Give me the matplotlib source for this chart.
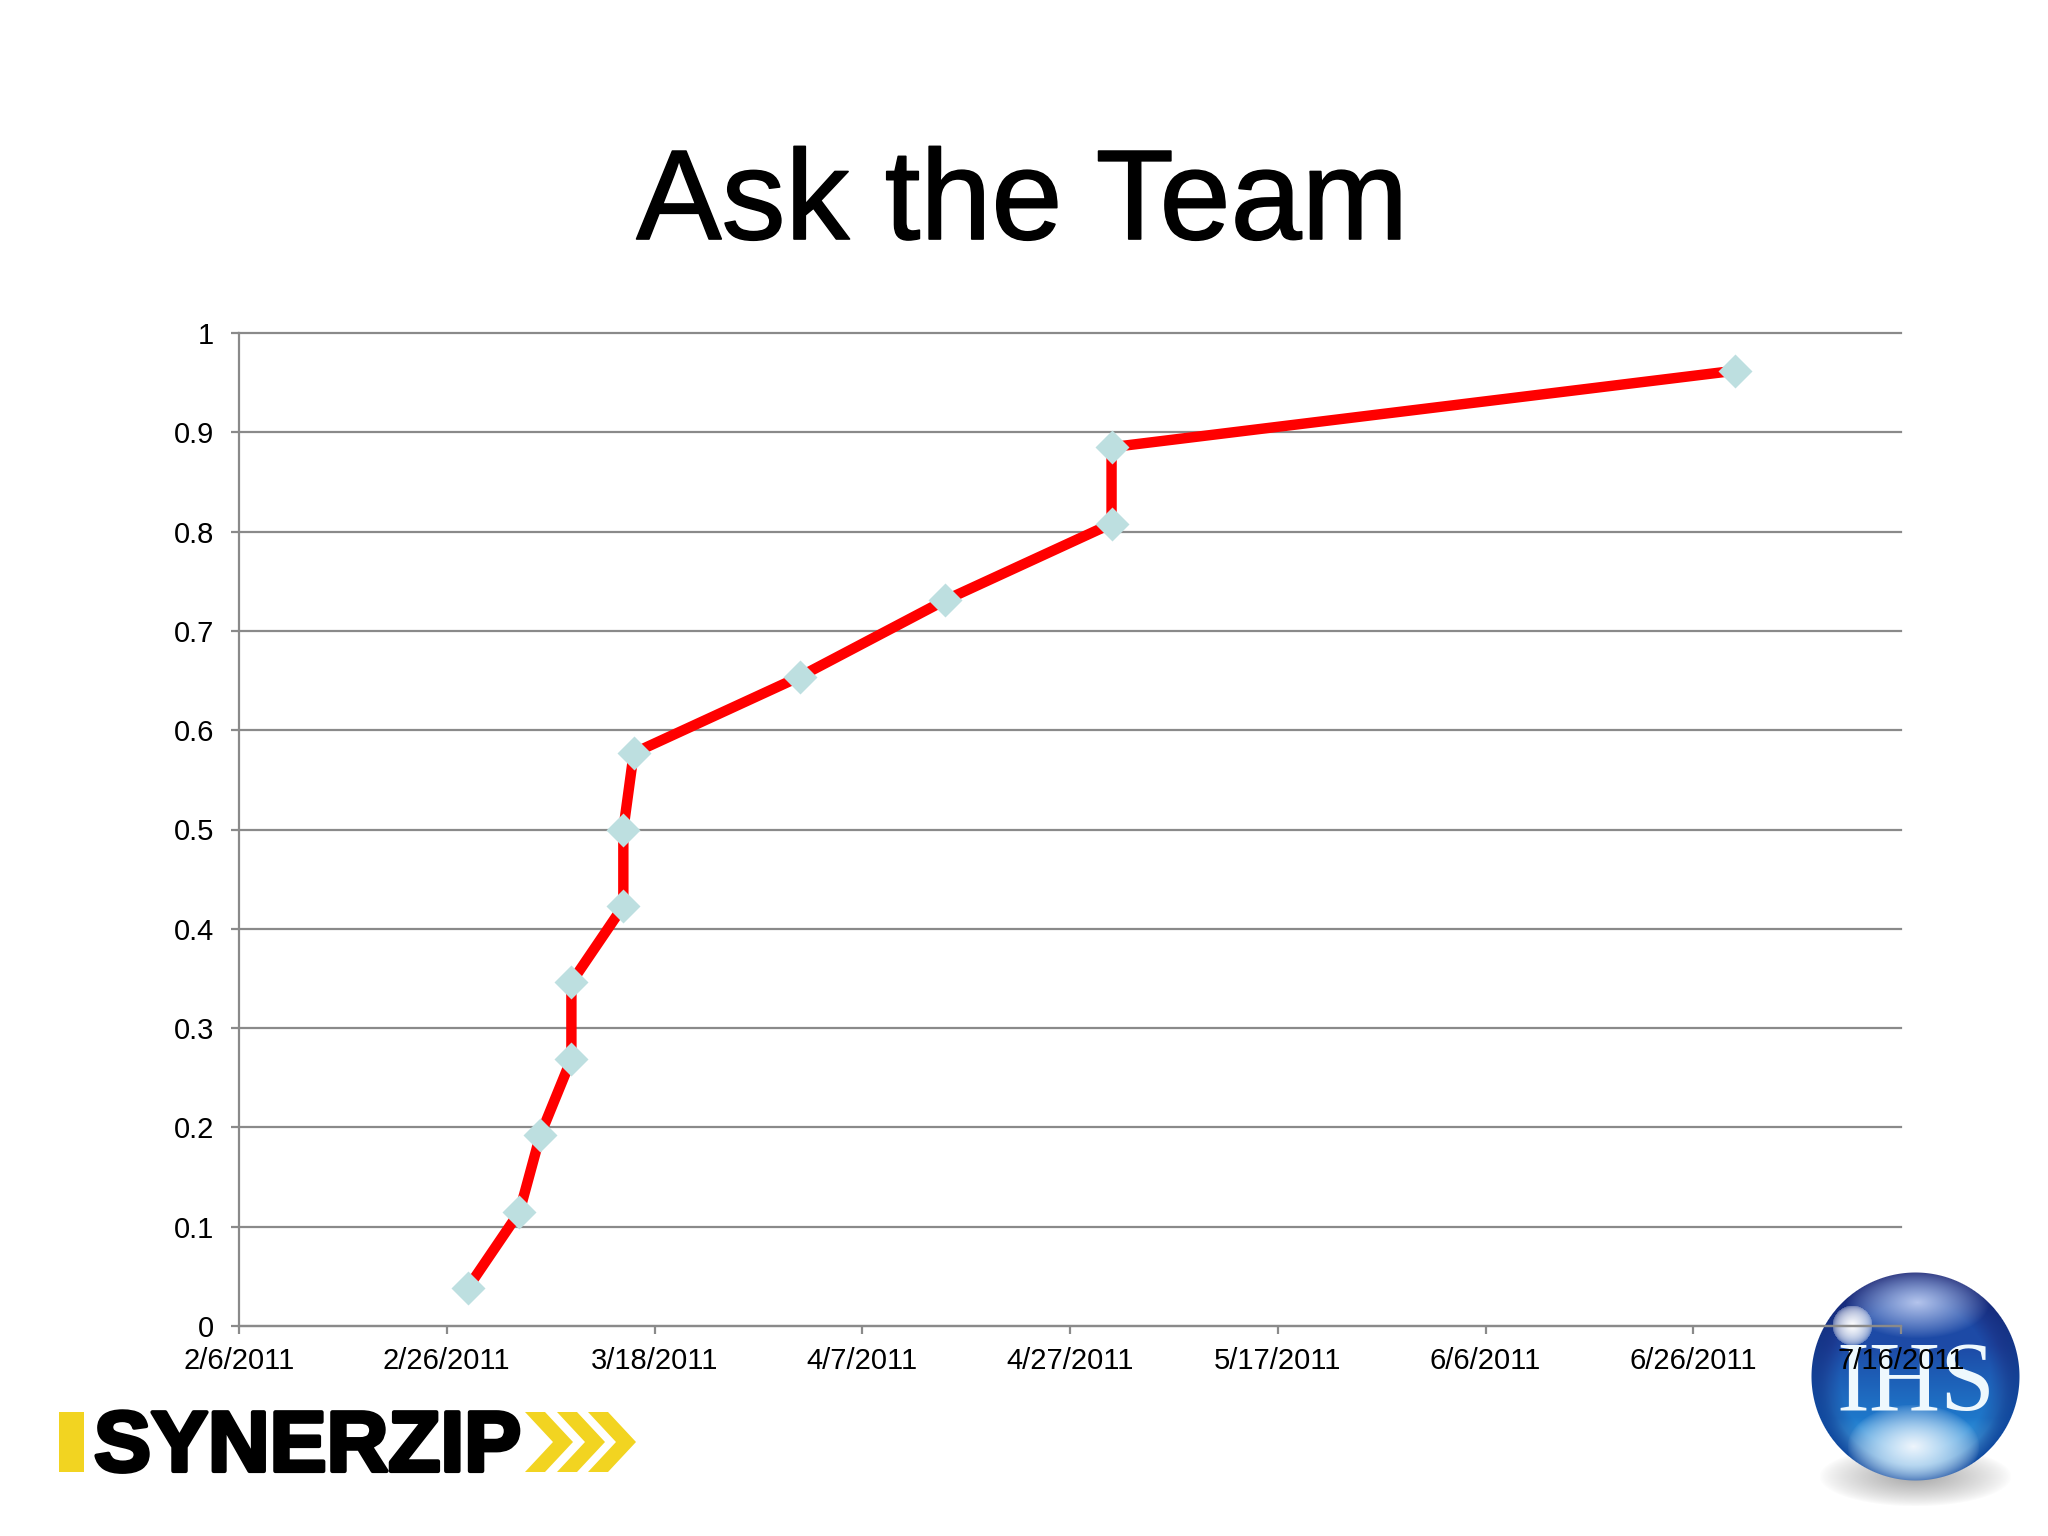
import numpy as np
import pandas as pd
import matplotlib
matplotlib.use('Agg')
import matplotlib.pyplot as plt
import matplotlib.patheffects as pe
from matplotlib.patches import Polygon, Rectangle

# Data
dates = ['2011-02-28', '2011-03-05', '2011-03-07', '2011-03-10', '2011-03-10',
         '2011-03-15', '2011-03-15', '2011-03-16', '2011-04-01', '2011-04-15',
         '2011-05-01', '2011-05-01', '2011-06-30']
values = [0.038, 0.115, 0.192, 0.269, 0.346, 0.423, 0.500, 0.577, 0.654,
          0.731, 0.808, 0.885, 0.962]
x_ticks = ['2011-02-06', '2011-02-26', '2011-03-18', '2011-04-07', '2011-04-27',
           '2011-05-17', '2011-06-06', '2011-06-26', '2011-07-16']
x_labels = ['2/6/2011', '2/26/2011', '3/18/2011', '4/7/2011', '4/27/2011',
            '5/17/2011', '6/6/2011', '6/26/2011', '7/16/2011']
y_ticks = [0, 0.1, 0.2, 0.3, 0.4, 0.5, 0.6, 0.7, 0.8, 0.9, 1]
y_labels = ['0', '0.1', '0.2', '0.3', '0.4', '0.5', '0.6', '0.7', '0.8', '0.9', '1']

W, H = 2048, 1536
GREY = '#8a8a8a'
YELLOW = '#f2d421'

plt.rcParams['font.family'] = ['Liberation Sans', 'DejaVu Sans']
fig = plt.figure(figsize=(W / 100, H / 100), dpi=100, facecolor='white')

# Background layer in pixel coordinates, for the two logos
bg = fig.add_axes([0, 0, 1, 1], zorder=0)
bg.set_xlim(0, W)
bg.set_ylim(H, 0)
bg.axis('off')

# Synerzip logo
bg.add_patch(Rectangle((59, 1412), 25, 60, color=YELLOW, lw=0))
bg.text(94, 1471, 'SYNERZIP', fontsize=61.5, fontweight='bold', color='black',
        va='baseline', ha='left',
        path_effects=[pe.withStroke(linewidth=3, foreground='black')])
for cx in [525, 557, 588]:
    bg.add_patch(Polygon([(cx, 1412), (cx + 20, 1412), (cx + 48, 1442),
                          (cx + 20, 1472), (cx, 1472), (cx + 28, 1442)],
                         closed=True, color=YELLOW, lw=0))


def blob(xx, yy, cx, cy, rx, ry, power=2.0):
    # soft elliptical falloff, 1 at the centre and 0 at the rim
    d = np.sqrt(((xx - cx) / rx) ** 2 + ((yy - cy) / ry) ** 2)
    return np.clip(1 - d, 0, 1) ** (1 / power)


def mix(img, colour, a):
    colour = np.array(matplotlib.colors.to_rgb(colour))
    return img * (1 - a[..., None]) + colour * a[..., None]


# IHS ball logo, a shaded sphere with a soft shadow under it
x0, x1, y0, y1 = 1790, 2040, 1255, 1520
xx, yy = np.meshgrid(np.arange(x0, x1), np.arange(y0, y1))
bx, by, br = 1915, 1376, 104
r = np.sqrt((xx - bx) ** 2 + (yy - by) ** 2) / br

img = np.ones(xx.shape + (3,))
img = mix(img, '#a8a8a8', blob(xx, yy, 1915, 1476, 96, 30, 1.2))

t = np.clip((yy - (by - br)) / (2 * br), 0, 1)
sphere = mix(np.ones(xx.shape + (3,)), '#1d4aa6', np.ones_like(t))
sphere = mix(sphere, '#1f7fd0', np.clip((t - 0.35) / 0.4, 0, 1))
sphere = mix(sphere, '#5fb8ee', np.clip((t - 0.7) / 0.25, 0, 1))
sphere = mix(sphere, '#18206e', np.clip((r - 0.72) / 0.28, 0, 1) * (1 - t) ** 0.5)
sphere = mix(sphere, '#0f4aa0', np.clip((r - 0.85) / 0.15, 0, 1) * np.clip(t * 1.3, 0, 1))
sphere = mix(sphere, '#b4c4ec', blob(xx, yy, 1917, 1302, 72, 36, 1.1))
sphere = mix(sphere, '#eef5fc', blob(xx, yy, 1913, 1446, 66, 42, 1.4))
sphere = mix(sphere, '#ffffff', blob(xx, yy, 1852, 1325, 20, 20, 3.0))

inside = np.clip((1 - r) * br + 0.5, 0, 1)
img = img * (1 - inside[..., None]) + sphere * inside[..., None]
bg.imshow(img, extent=(x0, x1, y1, y0), interpolation='bilinear', aspect='auto', zorder=1)
bg.set_xlim(0, W)
bg.set_ylim(H, 0)
bg.text(1916, 1410, 'IHS', fontsize=71, family='Liberation Serif', color='#eef8fd',
        ha='center', va='baseline', zorder=2)

# The chart itself
ax = fig.add_axes([239 / W, 1 - 1326 / H, (1901 - 239) / W, (1326 - 333) / H], zorder=1)
ax.patch.set_visible(False)

x = pd.to_datetime(dates)
tick_pos = pd.to_datetime(x_ticks)

ax.plot(x, values, color='#ff0000', linewidth=7.5, solid_joinstyle='miter', zorder=3)
ax.plot(x, values, linestyle='none', marker='D', markersize=17,
        markerfacecolor='#bddfe0', markeredgecolor='none', zorder=4)

ax.set_xlim(tick_pos[0], tick_pos[-1])
ax.set_ylim(0, 1)
ax.set_xticks(tick_pos)
ax.set_xticklabels(x_labels)
ax.set_yticks(y_ticks)
ax.set_yticklabels(y_labels)

ax.grid(axis='y', color=GREY, linewidth=1.6, zorder=1, clip_on=False)
ax.set_axisbelow(True)
for side in ['top', 'right']:
    ax.spines[side].set_visible(False)
for side in ['left', 'bottom']:
    ax.spines[side].set_color(GREY)
    ax.spines[side].set_linewidth(1.6)
ax.tick_params(axis='both', color=GREY, width=1.6, length=5.8, labelsize=21,
               labelcolor='black')
ax.tick_params(axis='x', pad=9)
ax.tick_params(axis='y', pad=12)

fig.text(1022 / W, 1 - 239 / H, 'Ask the Team', fontsize=92, color='black',
         ha='center', va='baseline',
         path_effects=[pe.withStroke(linewidth=1.2, foreground='black')])

plt.savefig('out.png', dpi=100)
